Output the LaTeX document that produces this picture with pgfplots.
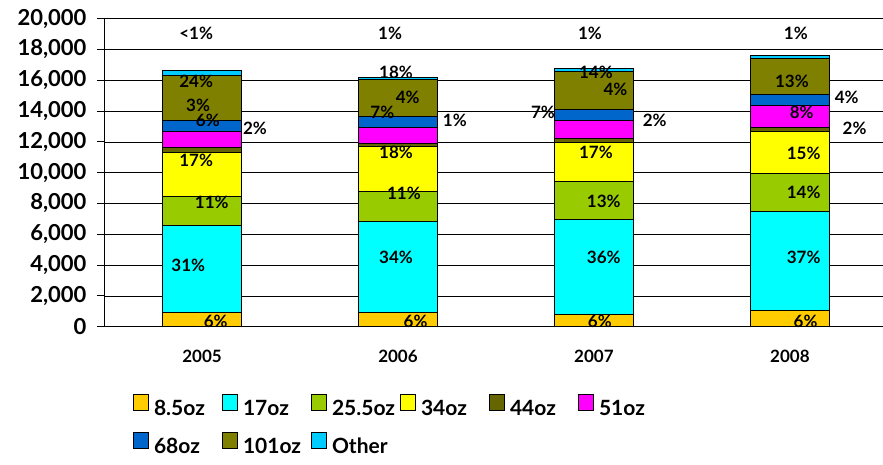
\documentclass[border=0pt]{standalone}
\usepackage{fontspec}
\setmainfont{Lato}
\usepackage{pgfplots}
\pgfplotsset{compat=1.18}
\definecolor{c85}{HTML}{FFCC00}
\definecolor{c17}{HTML}{00FFFF}
\definecolor{c255}{HTML}{99CC00}
\definecolor{c34}{HTML}{FFFF00}
\definecolor{c44}{HTML}{666600}
\definecolor{c51}{HTML}{FF00FF}
\definecolor{c68}{HTML}{0066CC}
\definecolor{c101}{HTML}{808000}
\definecolor{cOther}{HTML}{00CCFF}
\tikzset{lbl/.style={font=\fontsize{17}{19}\selectfont\bfseries, inner sep=0pt}}
\begin{document}
\begin{tikzpicture}
\begin{axis}[
  at={(0pt,0pt)}, anchor=south west,
  scale only axis, width=778pt, height=308pt,
  ybar stacked, bar width=0.4,
  xmin=-0.495, xmax=3.475,
  ymin=0, ymax=20000,
  ytick={0,2000,...,20000},
  xtick={0,1,2,3}, xticklabels={2005,2006,2007,2008},
  axis x line*=bottom, axis y line*=left,
  axis line style={-, line width=1pt, black},
  ymajorgrids, grid style={black, line width=0.8pt},
  tick align=outside, major tick length=8pt,
  ytick style={black, line width=1pt},
  xtick style={draw=none},
  scaled y ticks=false,
  /pgf/number format/fixed,
  /pgf/number format/1000 sep={,},
  /pgf/number format/assume math mode=true,
  yticklabel style={font=\fontsize{22}{24}\selectfont\bfseries, xshift=-7pt},
  xticklabel style={font=\fontsize{17}{19}\selectfont\bfseries, yshift=-12pt},
  clip=false,
  legend columns=6,
  legend style={at={(0.036,-0.218)}, anchor=north west, draw=none, fill=none,
    inner sep=0pt, outer sep=0pt, row sep=14pt,
    font=\fontsize{21}{23}\selectfont\bfseries,
    nodes={inner sep=0pt, text height=15pt, text depth=3pt},
    /tikz/every odd column/.append style={column sep=5pt},
    /tikz/every even column/.append style={column sep=0pt, text width=68pt, align=left}},
  legend image code/.code={\draw[#1, draw=black, line width=1pt] (0pt,-1pt) rectangle (15pt,15pt);},
]
\addplot[fill=c85, draw=black, line width=1pt] coordinates {(0,950) (1,910) (2,820) (3,1020)};
\addplot[fill=c17, draw=black, line width=1pt] coordinates {(0,5600) (1,5900) (2,6160) (3,6480)};
\addplot[fill=c255, draw=black, line width=1pt] coordinates {(0,1900) (1,1980) (2,2420) (3,2480)};
\addplot[fill=c34, draw=black, line width=1pt] coordinates {(0,2850) (1,2920) (2,2590) (3,2700)};
\addplot[fill=c44, draw=black, line width=1pt] coordinates {(0,320) (1,170) (2,220) (3,280)};
\addplot[fill=c51, draw=black, line width=1pt] coordinates {(0,1080) (1,1080) (2,1190) (3,1410)};
\addplot[fill=c68, draw=black, line width=1pt] coordinates {(0,720) (1,720) (2,690) (3,690)};
\addplot[fill=c101, draw=black, line width=1pt] coordinates {(0,2910) (1,2350) (2,2500) (3,2330)};
\addplot[fill=cOther, draw=black, line width=1pt] coordinates {(0,280) (1,180) (2,200) (3,220)};
\legend{8.5oz,17oz,25.5oz,34oz,44oz,51oz,68oz,101oz,Other}
% 2005
\coordinate (a1) at (axis cs:-0.03,19030);
\coordinate (a2) at (axis cs:-0.03,15920);
\coordinate (a3) at (axis cs:-0.02,14360);
\coordinate (a4) at (axis cs:0.03,13400);
\coordinate (a5) at (axis cs:0.27,12880);
\coordinate (a6) at (axis cs:-0.03,10800);
\coordinate (a7) at (axis cs:0.05,8080);
\coordinate (a8) at (axis cs:-0.07,4000);
\coordinate (a9) at (axis cs:0.07,370);
% 2006
\coordinate (b1) at (axis cs:0.96,19030);
\coordinate (b2) at (axis cs:0.99,16500);
\coordinate (b3) at (axis cs:1.05,14880);
\coordinate (b4) at (axis cs:0.92,13910);
\coordinate (b5) at (axis cs:1.29,13400);
\coordinate (b6) at (axis cs:0.99,11320);
\coordinate (b7) at (axis cs:1.03,8660);
\coordinate (b8) at (axis cs:0.99,4520);
\coordinate (b9) at (axis cs:1.09,370);
% 2007
\coordinate (c1) at (axis cs:1.98,19030);
\coordinate (c2) at (axis cs:2.01,16500);
\coordinate (c3) at (axis cs:2.11,15400);
\coordinate (c4) at (axis cs:1.74,13910);
\coordinate (c5) at (axis cs:2.31,13400);
\coordinate (c6) at (axis cs:2.01,11320);
\coordinate (c7) at (axis cs:2.05,8150);
\coordinate (c8) at (axis cs:2.05,4520);
\coordinate (c9) at (axis cs:2.03,370);
% 2008
\coordinate (d1) at (axis cs:3.03,19030);
\coordinate (d2) at (axis cs:3.01,15920);
\coordinate (d3) at (axis cs:3.29,14880);
\coordinate (d4) at (axis cs:3.06,13910);
\coordinate (d5) at (axis cs:3.33,12880);
\coordinate (d6) at (axis cs:3.07,11260);
\coordinate (d7) at (axis cs:3.07,8730);
\coordinate (d8) at (axis cs:3.07,4520);
\coordinate (d9) at (axis cs:3.08,370);
\end{axis}
\node[lbl] at (a1) {<1\%};
\node[lbl] at (a2) {24\%};
\node[lbl] at (a3) {3\%};
\node[lbl] at (a4) {6\%};
\node[lbl] at (a5) {2\%};
\node[lbl] at (a6) {17\%};
\node[lbl] at (a7) {11\%};
\node[lbl] at (a8) {31\%};
\node[lbl] at (a9) {6\%};
\node[lbl] at (b1) {1\%};
\node[lbl] at (b2) {18\%};
\node[lbl] at (b3) {4\%};
\node[lbl] at (b4) {7\%};
\node[lbl] at (b5) {1\%};
\node[lbl] at (b6) {18\%};
\node[lbl] at (b7) {11\%};
\node[lbl] at (b8) {34\%};
\node[lbl] at (b9) {6\%};
\node[lbl] at (c1) {1\%};
\node[lbl] at (c2) {14\%};
\node[lbl] at (c3) {4\%};
\node[lbl] at (c4) {7\%};
\node[lbl] at (c5) {2\%};
\node[lbl] at (c6) {17\%};
\node[lbl] at (c7) {13\%};
\node[lbl] at (c8) {36\%};
\node[lbl] at (c9) {6\%};
\node[lbl] at (d1) {1\%};
\node[lbl] at (d2) {13\%};
\node[lbl] at (d3) {4\%};
\node[lbl] at (d4) {8\%};
\node[lbl] at (d5) {2\%};
\node[lbl] at (d6) {15\%};
\node[lbl] at (d7) {14\%};
\node[lbl] at (d8) {37\%};
\node[lbl] at (d9) {6\%};
\pgfresetboundingbox
\path (-105pt,-137.3pt) rectangle (778pt,326.7pt);
\end{tikzpicture}
\end{document}
